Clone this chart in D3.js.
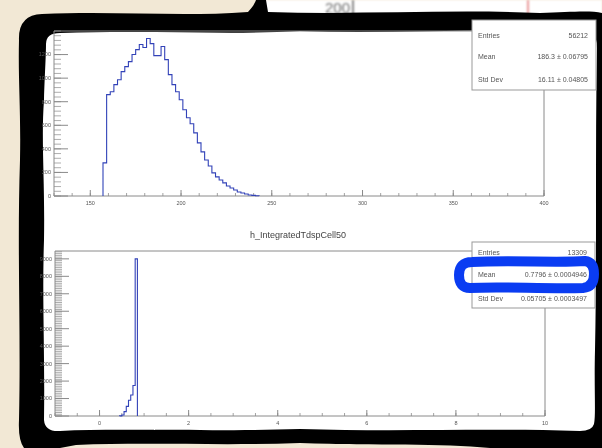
<!DOCTYPE html>
<html><head><meta charset="utf-8">
<script src="https://cdn.jsdelivr.net/npm/d3@7"></script>
<style>html,body{margin:0;padding:0;background:#f2e8d5;}svg{display:block;}</style>
</head><body>
<svg id="c" width="602" height="448"></svg>
<script>
// ---------- data ----------
const upperBinStart = 157, upperBinWidth = 2;
const upperCounts = [281, 860, 885, 945, 987, 1055, 1098, 1140, 1200, 1242, 1285, 1260, 1336, 1293,
  1191, 1191, 1268, 1157, 1030, 945, 885, 817, 732, 664, 613, 536, 451, 374, 306, 255, 196, 162,
  136, 111, 85, 68, 51, 34, 26, 17, 9, 5, 2];
const upperXTicks = [150, 200, 250, 300, 350, 400];
const upperYTicks = [0, 200, 400, 600, 800, 1000, 1200];
const upperStatsLabels = ["Entries", "Mean", "Std Dev"];
const upperStatsValues = ["56212", "186.3 \u00b1 0.06795", "16.11 \u00b1 0.04805"];

const lowerTitle = "h_IntegratedTdspCell50";
const lowerBinStart = 0.45, lowerBinWidth = 0.05;
const lowerCounts = [10, 60, 250, 550, 900, 1200, 1750, 9000];
const lowerXTicks = [0, 2, 4, 6, 8, 10];
const lowerYTicks = [0, 1000, 2000, 3000, 4000, 5000, 6000, 7000, 8000, 9000];
const lowerStatsLabels = ["Entries", "Mean", "Std Dev"];
const lowerStatsValues = ["13309", "0.7796 \u00b1 0.0004946", "0.05705 \u00b1 0.0003497"];
const topStripLabel = "200";

// ---------- drawing ----------
const svg = d3.select("#c");
const defs = svg.append("defs");
defs.append("filter").attr("id","blur").attr("x","-5%").attr("y","-5%").attr("width","110%").attr("height","110%")
  .append("feGaussianBlur").attr("stdDeviation", 0.6);
defs.append("filter").attr("id","blur2")
  .append("feGaussianBlur").attr("stdDeviation", 0.9);

svg.append("rect").attr("width",602).attr("height",448).attr("fill","#f2e8d5");

// top strip (another screen behind the photo)
const strip = svg.append("g").attr("filter","url(#blur2)");
strip.append("rect").attr("x",262).attr("y",0).attr("width",340).attr("height",16).attr("fill","#fff");
strip.append("text").attr("x",350).attr("y",13).attr("text-anchor","end")
  .attr("font-family","Liberation Sans, Arial, sans-serif").attr("font-size",15).attr("fill","#333").text(topStripLabel);
strip.append("line").attr("x1",353).attr("x2",353).attr("y1",0).attr("y2",16).attr("stroke","#222").attr("stroke-width",1.5);
strip.append("line").attr("x1",528).attr("x2",528).attr("y1",0).attr("y2",16).attr("stroke","#e05050").attr("stroke-width",1.5);

// black hand-drawn frame
svg.append("path").attr("fill","#000").attr("d",
  "M19,40 Q18,15 42,14 C120,11 180,17 248,12 C252,8 255,3 256,0 L266,0 L268,12 C360,15 450,9 540,13 C570,12 590,10 602,13 " +
  "L602,448 L490,448 C440,443 380,446 300,443 C220,446 150,442 76,445 L60,448 L24,448 Q18,440 19,420 " +
  "C21,330 17,250 20,160 C21,110 18,80 19,40 Z");
// white inner sheet
svg.append("path").attr("fill","#fff").attr("d",
  "M46,44 Q46,33 60,33 C150,30 230,35 300,31 C380,34 460,29 540,31 C565,30 585,31 592,33 Q597,36 597,48 " +
  "C595,150 597,260 595,350 C594,390 596,415 594,424 Q592,431 580,431 C480,428 400,432 300,429 " +
  "C200,432 120,428 60,431 Q45,432 44,420 C45,350 42,300 44,240 C45,180 41,140 44,100 C45,70 46,55 46,44 Z");

const g = svg.append("g").attr("filter","url(#blur)");
const font = "Liberation Sans, Arial, Helvetica, sans-serif";
const axisCol = "#8a8a8a", histCol = "#3242b8";

function panel(o) {
  const {x, y, xMinorStep, yMinorStep, xTicks, yTicks, counts, binStart, binWidth, xLabelY} = o;
  const [x0, x1] = x.range(); const [y0] = y.range();
  const xd = x.domain(), yd = y.domain();
  g.append("path").attr("fill","none").attr("stroke",axisCol).attr("stroke-width",1)
    .attr("d", `M${x0},${y0}V${y(yd[1])}H${x1}V${y0}Z`);
  const xMin = d3.range(Math.ceil(xd[0]/xMinorStep)*xMinorStep, xd[1]+1e-9, xMinorStep);
  g.selectAll(null).data(xMin).join("line")
    .attr("x1",d=>x(d)).attr("x2",d=>x(d)).attr("y1",y0).attr("y2",y0-3)
    .attr("stroke",axisCol).attr("stroke-width",0.8);
  g.selectAll(null).data(xTicks).join("line")
    .attr("x1",d=>x(d)).attr("x2",d=>x(d)).attr("y1",y0).attr("y2",y0-6)
    .attr("stroke",axisCol).attr("stroke-width",1);
  g.selectAll(null).data(xTicks).join("text")
    .attr("x",d=>x(d)).attr("y",xLabelY).attr("text-anchor","middle")
    .attr("font-family",font).attr("font-size",5.5).attr("fill","#555").text(d=>d);
  const yMin = d3.range(0, yd[1]+1e-9, yMinorStep);
  g.selectAll(null).data(yMin).join("line")
    .attr("x1",x0).attr("x2",x0+7).attr("y1",d=>y(d)).attr("y2",d=>y(d))
    .attr("stroke",axisCol).attr("stroke-width",0.7);
  g.selectAll(null).data(yTicks).join("line")
    .attr("x1",x0).attr("x2",x0+14).attr("y1",d=>y(d)).attr("y2",d=>y(d))
    .attr("stroke",axisCol).attr("stroke-width",1);
  g.selectAll(null).data(yTicks).join("text")
    .attr("x",x0-3).attr("y",d=>y(d)).attr("dy","0.35em").attr("text-anchor","end")
    .attr("font-family",font).attr("font-size",5.5).attr("fill","#555").text(d=>d);
  const pts = [[binStart, 0]];
  counts.forEach((c,i)=>pts.push([binStart+i*binWidth, c]));
  pts.push([binStart+counts.length*binWidth, 0]);
  const line = d3.line().x(d=>x(d[0])).y(d=>y(d[1])).curve(d3.curveStepAfter);
  g.append("path").attr("d", line(pts)).attr("fill","none").attr("stroke",histCol).attr("stroke-width",1.1);
}

function statsBox(bx, by, bw, bh, labels, values, rowYs) {
  g.append("rect").attr("x",bx).attr("y",by).attr("width",bw).attr("height",bh)
    .attr("fill","#fff").attr("stroke","#999").attr("stroke-width",1);
  labels.forEach((l,i)=>{
    g.append("text").attr("x",bx+6).attr("y",rowYs[i]).attr("dy","0.35em")
      .attr("font-family",font).attr("font-size",7).attr("fill","#555").text(l);
    g.append("text").attr("x",bx+bw-8).attr("y",rowYs[i]).attr("dy","0.35em").attr("text-anchor","end")
      .attr("font-family",font).attr("font-size",7).attr("fill","#555").text(values[i]);
  });
}

panel({
  x: d3.scaleLinear([130, 400], [54, 544]),
  y: d3.scaleLinear([0, 1400], [196, 31]),
  xMinorStep: 10, yMinorStep: 40, xTicks: upperXTicks, yTicks: upperYTicks,
  counts: upperCounts, binStart: upperBinStart, binWidth: upperBinWidth, xLabelY: 205
});
statsBox(472, 20, 124, 70, upperStatsLabels, upperStatsValues, [36, 57, 80]);

g.append("text").attr("x",298).attr("y",235).attr("dy","0.35em").attr("text-anchor","middle")
  .attr("font-family",font).attr("font-size",9).attr("fill","#444").text(lowerTitle);
panel({
  x: d3.scaleLinear([-1, 10], [55, 545]),
  y: d3.scaleLinear([0, 9450], [416, 251]),
  xMinorStep: 0.5, yMinorStep: 100, xTicks: lowerXTicks, yTicks: lowerYTicks,
  counts: lowerCounts, binStart: lowerBinStart, binWidth: lowerBinWidth, xLabelY: 425
});
statsBox(472, 242, 123, 66, lowerStatsLabels, lowerStatsValues, [253, 275, 299]);

svg.append("path").attr("fill","none").attr("stroke","#0a3cf2").attr("stroke-width",10)
  .attr("stroke-linejoin","round").attr("stroke-linecap","round")
  .attr("d","M472,262 C510,260 560,263 585,261 Q594,262 594,274 Q594,287 583,288 C540,289 500,286 470,288 Q459,288 459,275 Q459,262 472,262 Z");
</script>
</body></html>
